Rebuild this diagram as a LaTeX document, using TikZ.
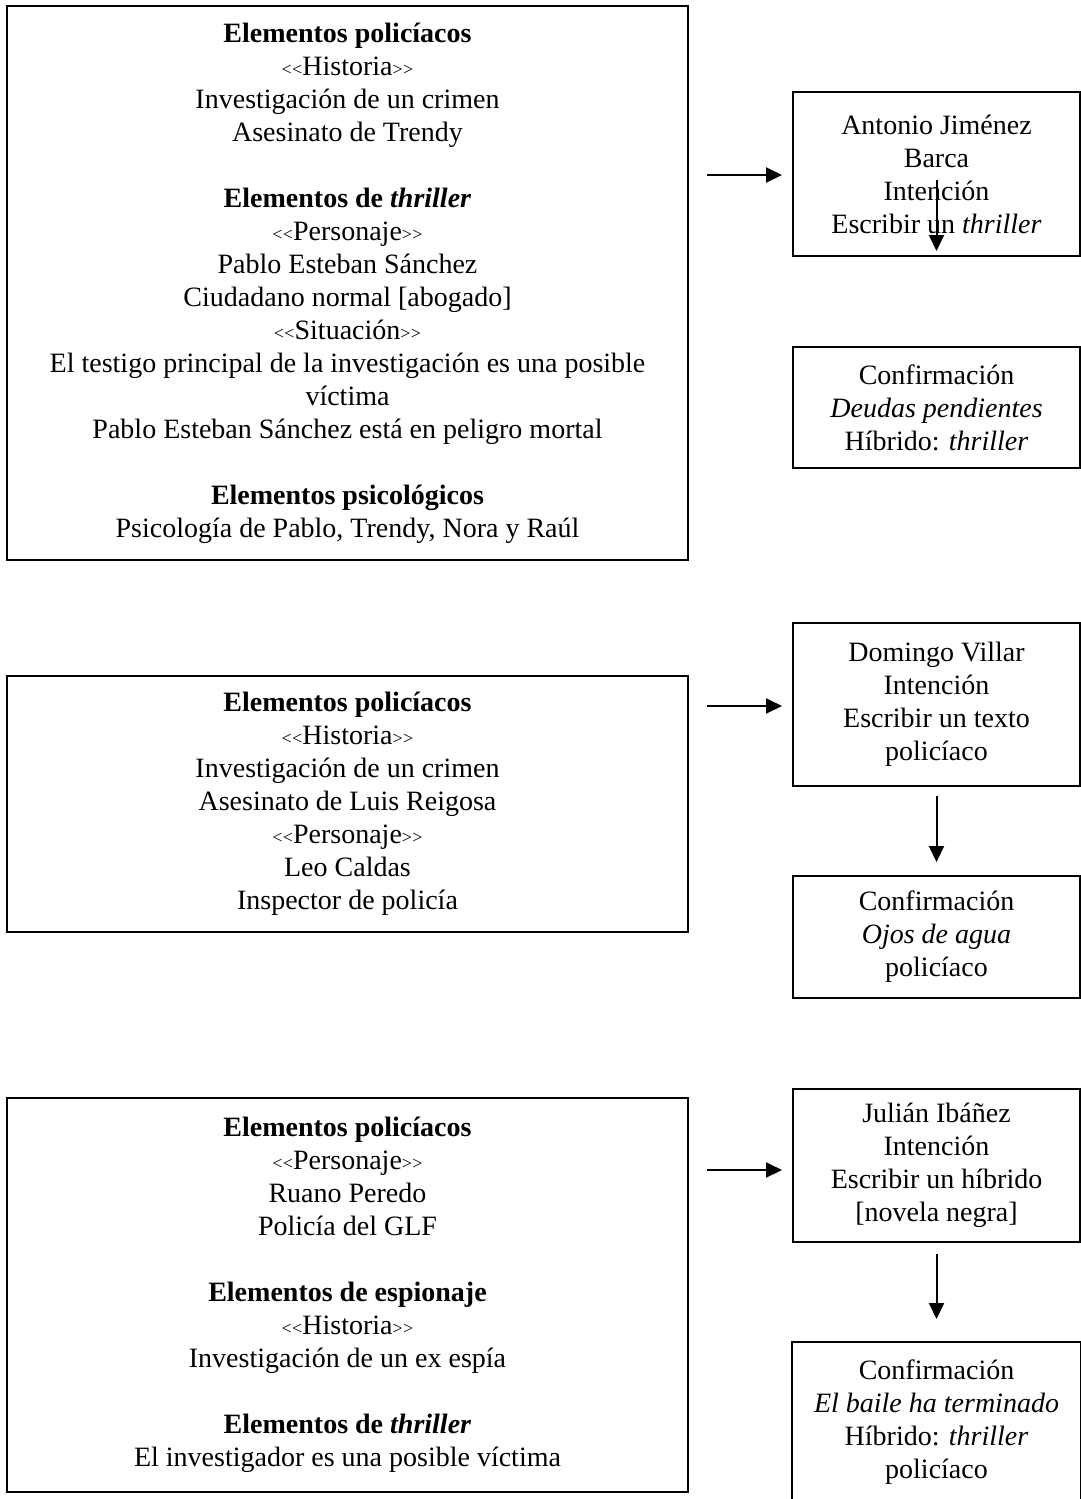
\documentclass[tikz,border=0pt]{standalone}
\usepackage{fontspec}
\setmainfont{Liberation Serif}
\usetikzlibrary{arrows.meta}
% small angle marks around a tag word (kerns keep the pairs from becoming guillemets)
\newcommand\angmark[1]{{\fontsize{9}{9}\selectfont#1\kern0.2pt#1}}
\newcommand\angtag[1]{\angmark{\textless}#1\angmark{\textgreater}}
\begin{document}
\begin{tikzpicture}[x=0.5pt,y=-0.5pt,
  box/.style={draw, line width=1pt, inner sep=0pt, align=center,
    font=\fontsize{14}{16.5}\selectfont},
  leftbox/.style={box, minimum width=340.5pt},
  rightbox/.style={box, minimum width=143.5pt},
  arr/.style={line width=1pt, -{Triangle[length=8pt,width=7.5pt]}}]
\useasboundingbox (0,0) rectangle (1081,1499);
\clip (0,0) rectangle (1081,1499);

% ---- first row ----
\node[leftbox, minimum height=277pt] (L1) at (347.5,283) {%
  \textbf{Elementos policíacos}\\
  \angtag{Historia}\\
  Investigación de un crimen\\
  Asesinato de Trendy\\[16.5pt]
  \textbf{Elementos de \textit{thriller}}\\
  \angtag{Personaje}\\
  Pablo Esteban Sánchez\\
  Ciudadano normal [abogado]\\
  \angtag{Situación}\\
  El testigo principal de la investigación es una posible\\
  víctima\\
  Pablo Esteban Sánchez está en peligro mortal\\[16.5pt]
  \textbf{Elementos psicológicos}\\
  Psicología de Pablo, Trendy, Nora y Raúl};

\node[rightbox, minimum height=82pt] (R1a) at (936.5,174) {%
  Antonio Jiménez\\ Barca\\ Intención\\ Escribir un \textit{thriller}};
\node[rightbox, minimum height=60.5pt] (R1b) at (936.5,407.5) {%
  Confirmación\\ \textit{Deudas pendientes}\\ Híbrido: \textit{thriller}};

\coordinate (s1) at (707,175);
\draw[arr, shorten >=5pt] (s1) -- (s1 -| R1a.west);
\draw[arr] ([yshift=-3pt]R1a.center) -- ([yshift=3pt]R1a.south);

% ---- second row ----
\node[leftbox, minimum height=128pt] (L2) at (347.5,804) {%
  \textbf{Elementos policíacos}\\
  \angtag{Historia}\\
  Investigación de un crimen\\
  Asesinato de Luis Reigosa\\
  \angtag{Personaje}\\
  Leo Caldas\\
  Inspector de policía};

\node[rightbox, minimum height=81.5pt] (R2a) at (936.5,704.5) {%
  Domingo Villar\\ Intención\\ Escribir un texto\\ policíaco};
\node[rightbox, minimum height=61pt] (R2b) at (936.5,937) {%
  Confirmación\\ \textit{Ojos de agua}\\ policíaco};

\coordinate (s2) at (707,706);
\draw[arr, shorten >=5pt] (s2) -- (s2 -| R2a.west);
\draw[arr, shorten <=4.5pt, shorten >=6.5pt] (R2a.south) -- (R2b.north);

% ---- third row ----
\node[leftbox, minimum height=197pt] (L3) at (347.5,1295) {%
  \textbf{Elementos policíacos}\\
  \angtag{Personaje}\\
  Ruano Peredo\\
  Policía del GLF\\[16.5pt]
  \textbf{Elementos de espionaje}\\
  \angtag{Historia}\\
  Investigación de un ex espía\\[16.5pt]
  \textbf{Elementos de \textit{thriller}}\\
  El investigador es una posible víctima};

\node[rightbox, minimum height=76.5pt] (R3a) at (936.5,1165.5) {%
  Julián Ibáñez\\ Intención\\ Escribir un híbrido\\ {[}novela negra{]}};
\node[box, draw=none, minimum width=143.5pt, minimum height=79.5pt] (R3b) at (936.5,1422.5) {%
  Confirmación\\ \textit{El baile ha terminado}\\ Híbrido: \textit{thriller}\\ policíaco};
\draw[line width=1pt] ([yshift=-20pt]R3b.south west) |- (R3b.north east) -- ([yshift=-20pt]R3b.south east);

\coordinate (s3) at (707,1170);
\draw[arr, shorten >=5pt] (s3) -- (s3 -| R3a.west);
\draw[arr, shorten <=5.5pt, shorten >=11.5pt] (R3a.south) -- (R3b.north);
\end{tikzpicture}
\end{document}
